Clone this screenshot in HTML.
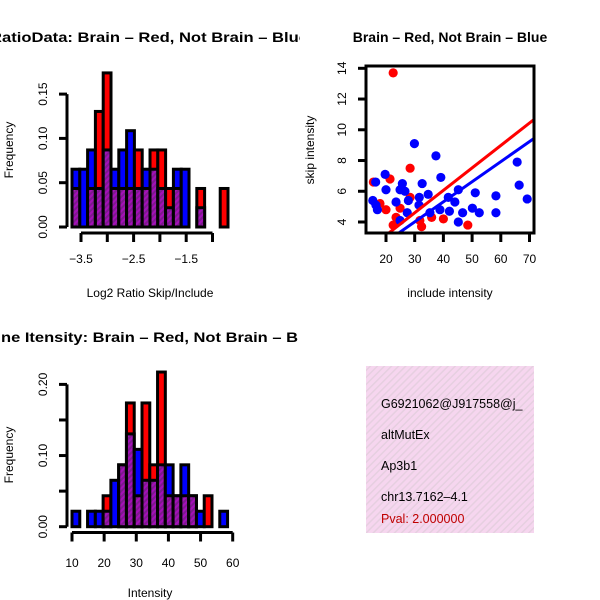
<!DOCTYPE html>
<html><head><meta charset="utf-8"><style>
html,body{margin:0;padding:0;background:#fff}
svg{display:block;font-family:"Liberation Sans",sans-serif}
</style></head><body>
<svg id="c" width="600" height="600" viewBox="0 0 600 600">
<defs>
<pattern id="hatch" width="4" height="4" patternUnits="userSpaceOnUse" patternTransform="rotate(45)">
<rect width="4" height="4" fill="#a410b8"/><rect width="2" height="4" fill="#7d1a8e"/>
</pattern>
<pattern id="pinkhatch" width="5" height="5" patternUnits="userSpaceOnUse" patternTransform="rotate(45)">
<rect width="5" height="5" fill="#f6d6ef"/><rect width="1.5" height="5" fill="#e6cfe0"/>
</pattern>
<clipPath id="clipL"><rect x="0" y="0" width="300" height="600"/></clipPath>
<clipPath id="clipS"><rect x="366" y="66" width="168" height="167"/></clipPath>
</defs>
<g id="g1"></g>
<g id="g2"></g>
<g id="g3"></g>
<g>
<rect x="366" y="366" width="168" height="167" fill="url(#pinkhatch)"/>
<text x="381" y="408" font-size="12.5">G6921062@J917558@j_</text>
<text x="381" y="439" font-size="12.5">altMutEx</text>
<text x="381" y="470" font-size="12.5">Ap3b1</text>
<text x="381" y="501" font-size="12.5">chr13.7162–4.1</text>
<text x="381" y="523" font-size="12.5" fill="#c00000">Pval: 2.000000</text>
</g>
</svg>
<script>
// Histogram 1 data (counts, frequency = count / total)
const h1Blue=[3,3,4,2,4,3,4,5,2,3,3,2,1,3,3,0,1,0,0,0];
const h1Red=[2,0,2,6,8,2,2,2,4,2,4,4,2,2,0,0,2,0,0,2];
const h1Total=[46];
const h1YTicks=[0,0.05,0.10,0.15];
const h1YLabels=["0.00","0.05","0.10","0.15"];
const h1XTicks=[-3.5,-3,-2.5,-2,-1.5,-1];
const h1XLabels=["−3.5","","−2.5","","−1.5",""];
const h1Break0=[-3.671];
const h1BinW=[0.1483];
// Histogram 2 data
const h2Blue=[1,0,1,1,1,3,4,6,5,3,3,4,4,2,4,2,1,0,0,1];
const h2Red=[0,0,0,0,2,0,4,8,2,8,4,10,2,2,2,2,0,2,0,0];
const h2Total=[46];
const h2YTicks=[0,0.05,0.10,0.15,0.20];
const h2YLabels=["0.00","","0.10","","0.20"];
const h2XTicks=[10,20,30,40,50,60];
const h2XLabels=["10","20","30","40","50","60"];
const h2Break0=[10];
const h2BinW=[2.42];
// Scatter data
const redX=[22.5,28.4,21.4,15.6,17.9,20,24.9,28.4,23.5,22.5,32.4,35.9,40,48.5,31.8];
const redY=[13.7,7.5,6.8,6.6,5.2,4.8,4.9,5.6,4.3,3.8,3.7,4.3,4.2,3.8,4.1];
const blueX=[29.9,37.4,39.1,19.7,16.4,20,25.7,24.9,26.6,15.4,16.5,17,23.5,27.8,27.4,31.6,32.6,34.7,35.3,31.5,41.7,42.1,45.2,44,45.2,46.7,50.1,51.1,52.5,58.3,58.3,65.7,66.4,69.2,24.9,38.8];
const blueY=[9.1,8.3,6.9,7.1,6.6,6.1,6.5,6.1,6.0,5.4,5.1,4.8,5.3,5.4,4.6,5.6,6.5,5.8,4.6,5.1,5.6,4.7,6.1,5.3,4.0,4.6,4.9,5.9,4.6,5.7,4.6,7.9,6.4,5.5,4.1,4.8];
const redFit=[0.22,0.146];
const blueFit=[0.09,0.1306];
const sXTicks=[20,30,40,50,60,70];
const sYTicks=[4,6,8,10,12,14];

const NS="http://www.w3.org/2000/svg";
function mk(p,tag,attrs){const e=document.createElementNS(NS,tag);for(const k in attrs)e.setAttribute(k,attrs[k]);p.appendChild(e);return e;}

function hist(g,blue,red,total,yt,yl,xt,xl,b0,bw,xs,ys,axY,xAxisY,xlabY,title,titleX,titleLen,xTitle,xTitleY,yTitleY,namePrefix){
  const gc=mk(g,'g',{'clip-path':'url(#clipL)'});
  const t=mk(gc,'text',{x:titleX,y:title[1],'font-size':14,'font-weight':'bold',textLength:titleLen,lengthAdjust:'spacingAndGlyphs'});
  t.textContent=title[0];
  
  
  for(let i=0;i<blue.length;i++){
    const x0=xs(b0+i*bw),x1=xs(b0+(i+1)*bw);
    const fb=blue[i]/total,fr=red[i]/total;
    const mx=Math.max(fb,fr),mn=Math.min(fb,fr);
    if(mx>0){
      const r=mk(g,'rect',{x:x0,y:ys(mx),width:x1-x0,height:ys(0)-ys(mx),fill:fb>=fr?'#0000ff':'#ff0000',stroke:'#000','stroke-width':3});
      
      
    }
    if(mn>0){
      const r=mk(g,'rect',{x:x0,y:ys(mn),width:x1-x0,height:ys(0)-ys(mn),fill:'url(#hatch)',stroke:'#000','stroke-width':3});
      
      
    }
  }
  // y axis
  const ya=mk(g,'line',{x1:axY,x2:axY,y1:ys(yt[0]),y2:ys(yt[yt.length-1]),stroke:'#000','stroke-width':3});
  
  
  yt.forEach((v,i)=>{
    mk(g,'line',{x1:axY-8,x2:axY,y1:ys(v),y2:ys(v),stroke:'#000','stroke-width':3});
    if(yl[i]){const tx=mk(g,'text',{x:0,y:0,'font-size':12,'text-anchor':'middle',transform:`translate(${axY-20},${ys(v)}) rotate(-90)`});tx.textContent=yl[i];
      
      }
  });
  const xa=mk(g,'line',{x1:xs(xt[0]),x2:xs(xt[xt.length-1]),y1:xAxisY,y2:xAxisY,stroke:'#000','stroke-width':3});
  
  
  xt.forEach((v,i)=>{
    mk(g,'line',{x1:xs(v),x2:xs(v),y1:xAxisY,y2:xAxisY+9,stroke:'#000','stroke-width':3});
    if(xl[i]){const tx=mk(g,'text',{x:xs(v),y:xlabY,'font-size':12,'text-anchor':'middle'});tx.textContent=xl[i];
      
      }
  });
  const xt2=mk(g,'text',{x:150,y:xTitleY,'font-size':12,'text-anchor':'middle'});xt2.textContent=xTitle;
  
  
  const yt2=mk(g,'text',{x:0,y:0,'font-size':12,'text-anchor':'middle',transform:`translate(13,${yTitleY}) rotate(-90)`});yt2.textContent='Frequency';
  
  
}

// Panel 1
(function(){
  const xs=v=>81+(v+3.5)*52.6;
  const ys=v=>227-v*886;
  hist(document.getElementById('g1'),h1Blue,h1Red,h1Total[0],h1YTicks,h1YLabels,h1XTicks,h1XLabels,h1Break0[0],h1BinW[0],xs,ys,67,233,263,
    ['RatioData: Brain – Red, Not Brain – Blue',42],-10,318,'Log2 Ratio Skip/Include',297,150,'h1');
})();
// Panel 3
(function(){
  const xs=v=>72+(v-10)*3.214;
  const ys=v=>526.7-v*711.5;
  hist(document.getElementById('g3'),h2Blue,h2Red,h2Total[0],h2YTicks,h2YLabels,h2XTicks,h2XLabels,h2Break0[0],h2BinW[0],xs,ys,67,532.5,567,
    ['ne Itensity: Brain – Red, Not Brain – B',342],1,297,'Intensity',597,455,'h2');
})();
// Scatter
(function(){
  const g=document.getElementById('g2');
  const xs=v=>386+(v-20)*2.87;
  const ys=v=>222-(v-4)*15.37;
  const t=mk(g,'text',{x:450,y:42,'font-size':14,'font-weight':'bold','text-anchor':'middle'});t.textContent='Brain – Red, Not Brain – Blue';
  
  
  const pc=mk(g,'g',{'clip-path':'url(#clipS)'});
  redX.forEach((x,i)=>{const c=mk(pc,'circle',{cx:xs(x),cy:ys(redY[i]),r:4.6,fill:'#ff0000'});
    
    });
  blueX.forEach((x,i)=>{const c=mk(pc,'circle',{cx:xs(x),cy:ys(blueY[i]),r:4.6,fill:'#0000ff'});
    
    });
  [[redFit,'#ff0000','fit-line-brain'],[blueFit,'#0000ff','fit-line-not-brain']].forEach(([f,col,nm])=>{
    const l=mk(pc,'line',{x1:xs(0),y1:ys(f[0]),x2:xs(80),y2:ys(f[0]+f[1]*80),stroke:col,'stroke-width':3});
    
    
  });
  const box=mk(g,'rect',{x:366,y:66,width:168,height:167,fill:'none',stroke:'#000','stroke-width':3});
  
  
  sXTicks.forEach(v=>{mk(g,'line',{x1:xs(v),x2:xs(v),y1:233,y2:242,stroke:'#000','stroke-width':3});
    const tx=mk(g,'text',{x:xs(v),y:263,'font-size':12,'text-anchor':'middle'});tx.textContent=v;
    
    });
  sYTicks.forEach(v=>{mk(g,'line',{x1:358,x2:366,y1:ys(v),y2:ys(v),stroke:'#000','stroke-width':3});
    const tx=mk(g,'text',{x:0,y:0,'font-size':12,'text-anchor':'middle',transform:`translate(346,${ys(v)}) rotate(-90)`});tx.textContent=v;
    
    });
  const xt=mk(g,'text',{x:450,y:297,'font-size':12,'text-anchor':'middle'});xt.textContent='include intensity';
  
  
  const yt=mk(g,'text',{x:0,y:0,'font-size':12,'text-anchor':'middle',transform:'translate(314,150) rotate(-90)'});yt.textContent='skip intensity';
  
  
})();
</script>
</body></html>
